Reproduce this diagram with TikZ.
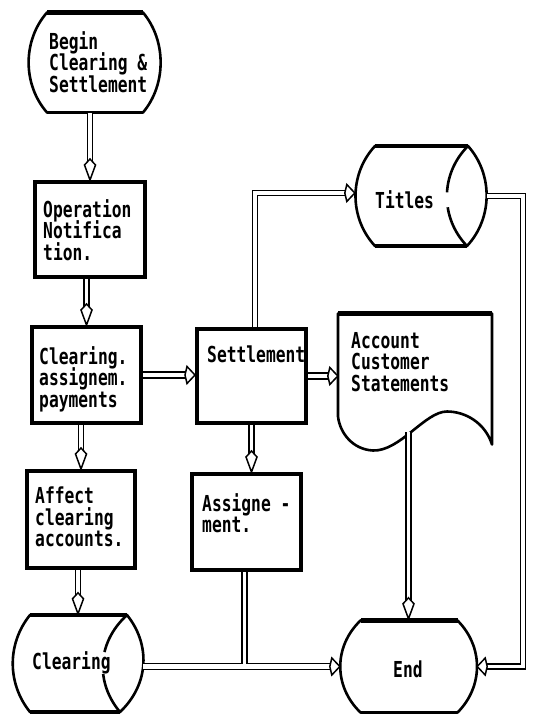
\documentclass[tikz,border=0pt]{standalone}
\usepackage{fontspec}
\newfontfamily\dotfont[FakeStretch=0.74]{DejaVu Sans Mono}
\usetikzlibrary{decorations.markings}
\newcommand\plotterfont{\dotfont\bfseries\fontsize{22pt}{21.5pt}\selectfont\lineskiplimit=-40pt\relax}

\tikzset{
  % rectangular process boxes
  box/.style={draw, rectangle, line width=4pt, inner sep=0pt},
  % invisible frames that carry the anchors of the drawn outlines
  holder/.style={rectangle, inner sep=0pt, draw=none},
  outline/.style={line width=2.6pt, line join=round},
  heavy/.style={line width=4.4pt},
  lbl/.style={font={\plotterfont}, align=left, inner sep=0pt},
  % hollow double flow line, gap as argument
  pipe/.style={draw, double, double distance=#1, line width=1.5pt},
  pipe/.default=4.4pt,
  % flow with a narrow kite head (vertical runs)
  vflow/.style={preaction={pipe=3.2pt, shorten >=15pt},
    postaction={decorate, decoration={markings, mark=at position 1 with {
      \draw[line width=1.5pt, fill=white, line join=miter]
        (0pt,0pt) -- (-15pt,5.5pt) -- (-21pt,0pt) -- (-15pt,-5.5pt) -- cycle;}}}},
  % flow with a wide open head (horizontal runs)
  hflow/.style={preaction={pipe=#1, shorten >=8pt},
    postaction={decorate, decoration={markings, mark=at position 1 with {
      \draw[line width=1.5pt, fill=white, line join=miter]
        (0pt,0pt) -- (-8pt,8.5pt) -- (-10pt,0pt) -- (-8pt,-8.5pt) -- cycle;}}}},
  hflow/.default=4.4pt,
}

\begin{document}
\begin{tikzpicture}[x=1pt, y=-1pt]
\useasboundingbox (0,0) rectangle (537,717);

% process boxes
\node[box, minimum width=110pt, minimum height=95pt] (op)     at (90,229.5) {};
\node[box, minimum width=109pt, minimum height=96pt] (clrbox) at (86.5,375) {};
\node[box, minimum width=109pt, minimum height=94pt] (settle) at (251.5,376) {};
\node[box, minimum width=108pt, minimum height=97pt] (affect) at (81,519.5) {};
\node[box, minimum width=109pt, minimum height=96pt] (assign) at (246.5,522) {};

% frames of the curved symbols
\node[holder, minimum width=135pt, minimum height=101pt] (begin)  at (94.5,62.5) {};
\node[holder, minimum width=137pt, minimum height=95pt]  (end)    at (408.5,666.5) {};
\node[holder, minimum width=132pt, minimum height=102pt] (titles) at (421,196) {};
\node[holder, minimum width=130pt, minimum height=99pt]  (clrcyl) at (78,663.5) {};
\node[holder, minimum width=154pt, minimum height=133pt] (doc)    at (415,378.5) {};

% terminal: begin
\begin{scope}[shift={(begin.center)}]
  \draw[outline] (-47.5,-50) -- (48.5,-50) .. controls (72,-22) and (72,22) .. (48.5,50)
    -- (-47.5,50) .. controls (-72,22) and (-72,-22) .. (-47.5,-50) -- cycle;
  \draw[heavy] (-47.5,-50) -- (48.5,-50);
  \draw[line width=3.4pt] (-47.5,50) -- (48.5,50);
\end{scope}

% terminal: end
\begin{scope}[shift={(end.center)}]
  \draw[outline] (-48,-46) -- (49,-46) .. controls (75,-20) and (75,20) .. (49,46)
    -- (-48,46) .. controls (-75,20) and (-75,-20) .. (-48,-46) -- cycle;
  \draw[heavy] (-48,-46) -- (49,-46);
\end{scope}

% drum store: titles
\begin{scope}[shift={(titles.center)}]
  \draw[outline] (-46,-50) -- (47,-50) .. controls (72,-22) and (72,22) .. (46,50)
    -- (-46,50) .. controls (-72,22) and (-72,-22) .. (-46,-50) -- cycle;
  \draw[heavy] (-46,-50) -- (47,-50);
  \draw[heavy] (-46,50) -- (46,50);
  \draw[outline, dash pattern=on 52pt off 15pt on 200pt]
    (47,-50) .. controls (19,-22) and (19,22) .. (46,50);
\end{scope}

% drum store: clearing
\begin{scope}[shift={(clrcyl.center)}]
  \draw[outline] (-48,-48.5) -- (49,-48.5) .. controls (72,-20) and (72,20) .. (42,48.5)
    -- (-48,48.5) .. controls (-71,20) and (-71,-20) .. (-48,-48.5) -- cycle;
  \draw[heavy] (-48,-48.5) -- (49,-48.5);
  \draw[heavy] (-48,48.5) -- (42,48.5);
  \draw[outline, dash pattern=on 44pt off 22pt on 200pt]
    (49,-48.5) .. controls (18,-20) and (18,20) .. (42,48.5);
\end{scope}

% document: statements
\begin{scope}[shift={(doc.center)}]
  \draw[outline] (-77,-65) -- (77,-65) -- (77,66) .. controls (70,44) and (50,33) .. (32,33)
    .. controls (10,33) and (-15,73) .. (-42,72)
    .. controls (-62,71) and (-75,55) .. (-77,38) -- cycle;
  \draw[heavy] (-77,-65) -- (77,-65);
\end{scope}

% labels
\node[lbl, anchor=north west] (begin-t)  at (49,31)   {Begin\\Clearing \&\\Settlement};
\node[lbl, anchor=north west] (op-t)     at (43,199)  {Operation\\Notifica\\tion.};
\node[lbl, anchor=north west] (clrbox-t) at (39,346)  {Clearing.\\assignem.\\payments};
\node[lbl, anchor=north west] (settle-t) at (207,346) {Settlement};
\node[lbl, anchor=north west] (affect-t) at (35,487)  {Affect\\clearing\\accounts.};
\node[lbl, anchor=north west] (assign-t) at (202,493) {Assigne -\\ment.};
\node[lbl, anchor=north west] (doc-t)    at (351,332) {Account\\Customer\\Statements};
\node[lbl, anchor=base west]  (titles-t) at (375,208) {Titles};
\node[lbl, anchor=base west]  (clrcyl-t) at (32,669)  {Clearing};
\node[lbl, anchor=base west]  (end-t)    at (393,677) {End};

% flows
\path[vflow] (begin.south -| op.north) -- (op.north);
\path[vflow] (op.south -| clrbox.north) -- (clrbox.north);
\path[hflow] (clrbox.east) -- (clrbox.east -| settle.west);
\path[hflow] (settle.east) -- (settle.east -| doc.west);
\path[vflow] (settle.south) -- (settle.south |- assign.north);
\path[hflow=3.6pt] ([xshift=3.5pt]settle.north) |- ([yshift=3pt]titles.west);
\path[vflow] (clrbox.south -| affect.north) -- (affect.north);
\path[vflow] (affect.south -| clrcyl.north) -- (clrcyl.north);
\path[hflow] (end.west -| clrcyl.east) -- (end.west);
\coordinate (jn) at (assign.south |- end.west);
\path[pipe=3.2pt] ([xshift=-2pt]assign.south) -- ([xshift=-2pt, yshift=2.2pt]jn);
\coordinate (docout) at (end.north |- doc.south);
\path[vflow] ([yshift=13pt]docout) -- (end.north);
\coordinate (rail) at (523,0);
\path[hflow=3.6pt] (titles.east) -| (rail |- end.east) -- (end.east);
\end{tikzpicture}
\end{document}
